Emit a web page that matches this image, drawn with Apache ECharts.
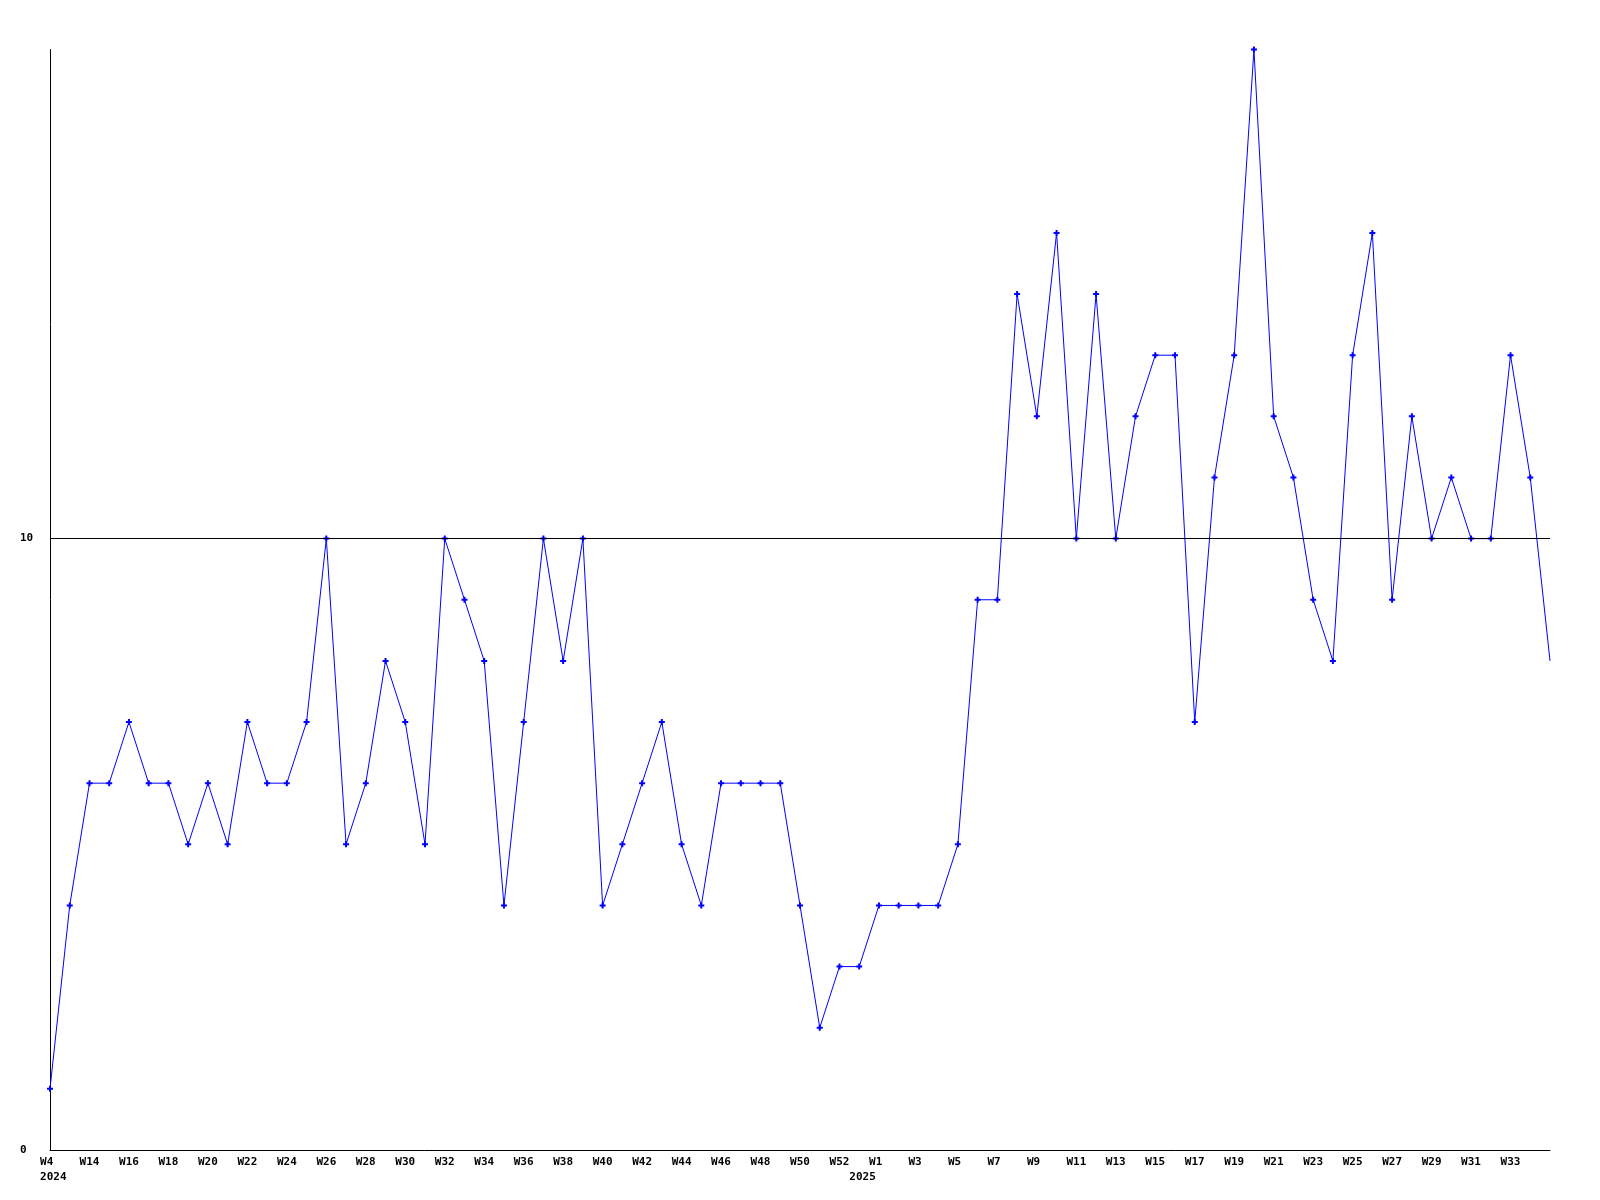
<!DOCTYPE html>
<html>
<head>
<meta charset="utf-8">
<script src="https://cdn.jsdelivr.net/npm/echarts@6/dist/echarts.min.js"></script>
<style>html,body{margin:0;padding:0;background:#fff}#c{width:1600px;height:1200px}</style>
</head>
<body>
<div id="c"></div>
<script>
var weeks = ['W4','W13','W14','W15','W16','W17','W18','W19','W20','W21','W22','W23','W24','W25','W26','W27','W28','W29','W30','W31','W32','W33','W34','W35','W36','W37','W38','W39','W40','W41','W42','W43','W44','W45','W46','W47','W48','W49','W50','W51','W52','W53',
  'W1','W2','W3','W4','W5','W6','W7','W8','W9','W10','W11','W12','W13','W14','W15','W16','W17','W18','W19','W20','W21','W22','W23','W24','W25','W26','W27','W28','W29','W30','W31','W32','W33','W34','W35'];
var yearLabels = {0: '2024', 41: '2025'};
var values = [1,4,6,6,7,6,6,5,6,5,7,6,6,7,10,5,6,8,7,5,10,9,8,4,7,10,8,10,4,5,6,7,5,4,6,6,6,6,4,2,
  3,3,4,4,4,4,5,9,9,14,12,15,10,14,10,12,13,13,7,11,13,18,12,11,9,8,13,15,9,12,10,11,10,10,13,11,8];
var yTickLabels = [0, 10];

function shownWeek(i){ return i % 2 === 0 && i <= 74; }
function pad(s, n){ while (s.length < n) s += ' '; return s; }

var chart = echarts.init(document.getElementById('c'));
var data = values.map(function(v, i){
  return i === values.length - 1 ? {value: v, symbol: 'none'} : v;
});
chart.setOption({
  animation: false,
  backgroundColor: '#fff',
  grid: {left: 50, right: 50, top: 49.5, bottom: 50, containLabel: false},
  xAxis: {
    type: 'category',
    data: weeks,
    boundaryGap: false,
    axisLine: {lineStyle: {color: '#000', width: 1}},
    axisTick: {show: false},
    splitLine: {show: false},
    axisLabel: {
      interval: function(i){ return shownWeek(i) || yearLabels[i] !== undefined; },
      margin: 5,
      color: '#000',
      fontFamily: 'DejaVu Sans Mono',
      fontWeight: 'bold',
      fontSize: 11,
      lineHeight: 15,
      align: 'center',
      hideOverlap: false,
      formatter: function(v, i){
        var top = shownWeek(i) ? pad(v, 3) : '   ';
        if (yearLabels[i] !== undefined) return top + '\n ' + yearLabels[i];
        return top;
      }
    }
  },
  yAxis: {
    type: 'value',
    min: 0,
    max: 18,
    interval: 10,
    axisLine: {show: true, lineStyle: {color: '#000', width: 1}},
    axisTick: {show: false},
    splitLine: {show: false},
    axisLabel: {
      color: '#000',
      fontFamily: 'DejaVu Sans Mono',
      fontWeight: 'bold',
      fontSize: 11,
      align: 'left',
      margin: 30,
      showMaxLabel: false,
      formatter: function(v){ return yTickLabels.indexOf(v) >= 0 ? String(v) : ''; }
    }
  },
  series: [{
    type: 'line',
    data: data,
    symbol: 'path://M2,0H4V2H6V4H4V6H2V4H0V2H2Z',
    symbolSize: 6,
    showAllSymbol: true,
    itemStyle: {color: '#0000ff'},
    lineStyle: {color: '#0000ff', width: 1},
    markLine: {
      silent: true,
      symbol: 'none',
      label: {show: false},
      lineStyle: {color: '#000', width: 1, type: 'solid'},
      data: [{yAxis: 10}]
    },
    z: 3
  }]
});
</script>
</body>
</html>
